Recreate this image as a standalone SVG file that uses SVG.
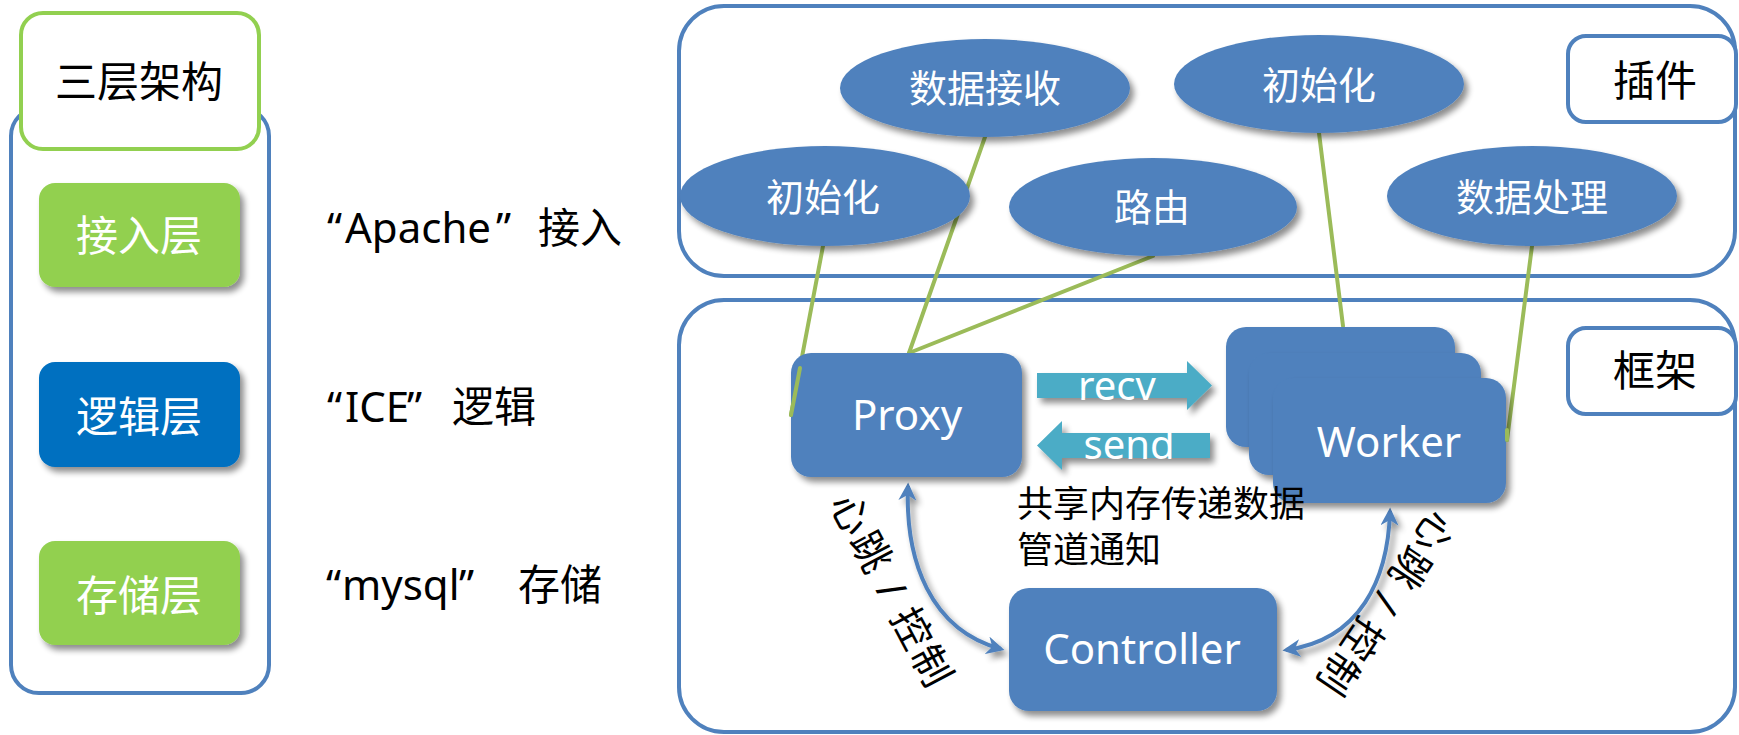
<svg xmlns="http://www.w3.org/2000/svg" width="1739" height="735" viewBox="0 0 1739 735">
<defs>
<style>
.t{font-family:"Noto Sans","Noto Sans CJK SC",sans-serif;}
.w{fill:#fff;}
.k{fill:#000;}
.frame{fill:#fff;stroke:#4F81BD;stroke-width:4;}
.node{fill:#4F81BD;}
.gl{stroke:#9BBB59;stroke-width:4;fill:none;stroke-linecap:round;}
.arc{stroke:#4F81BD;stroke-width:4;fill:none;}
.fat{fill:#4BACC6;}
</style>
<filter id="sh" x="-20%" y="-20%" width="150%" height="160%">
<feGaussianBlur in="SourceAlpha" stdDeviation="3"/>
<feOffset dx="4" dy="5" result="b"/>
<feComponentTransfer><feFuncA type="linear" slope="0.45"/></feComponentTransfer>
<feMerge><feMergeNode/><feMergeNode in="SourceGraphic"/></feMerge>
</filter>
<marker id="ah" viewBox="0 0 10 10" refX="8" refY="5" markerWidth="4.5" markerHeight="4.5" orient="auto-start-reverse" markerUnits="strokeWidth">
<path d="M0,0 L10,5 L0,10 L3,5 Z" fill="#4F81BD"/>
</marker>
</defs>
<rect width="1739" height="735" fill="#fff"/>

<!-- Left panel -->
<g id="left-panel">
<rect x="11" y="108" width="258" height="585" rx="28" class="frame"/>
</g>
<g id="title">
<rect x="21" y="13" width="238" height="136" rx="22" fill="#fff" stroke="#92D050" stroke-width="4"/>
<text x="139" y="97" class="t k" font-size="42" text-anchor="middle">三层架构</text>
</g>
<g id="layer-access">
<rect x="39" y="183" width="201" height="104" rx="16" fill="#92D050" filter="url(#sh)"/>
<text x="139" y="251" class="t w" font-size="42" text-anchor="middle">接入层</text>
</g>
<g id="layer-logic">
<rect x="39" y="362" width="201" height="105" rx="16" fill="#0070C0" filter="url(#sh)"/>
<text x="139" y="432" class="t w" font-size="42" text-anchor="middle">逻辑层</text>
</g>
<g id="layer-storage">
<rect x="39" y="541" width="201" height="104" rx="16" fill="#92D050" filter="url(#sh)"/>
<text x="139" y="611" class="t w" font-size="42" text-anchor="middle">存储层</text>
</g>
<g id="desc">
<text class="t k" font-size="42" y="243"><tspan x="327">“</tspan><tspan x="345">Apache</tspan><tspan x="496">”</tspan><tspan x="538">接入</tspan></text>
<text class="t k" font-size="42" y="422"><tspan x="327">“</tspan><tspan x="345">ICE</tspan><tspan x="407">”</tspan><tspan x="452">逻辑</tspan></text>
<text class="t k" font-size="42" y="600"><tspan x="326">“</tspan><tspan x="342">mysql</tspan><tspan x="459">”</tspan><tspan x="518">存储</tspan></text>
</g>

<!-- Right containers -->
<g id="plugin-area">
<rect x="679" y="6" width="1056" height="270" rx="45" class="frame"/>
<rect x="1568" y="36" width="168" height="86" rx="18" class="frame"/>
<text x="1655" y="96" class="t k" font-size="42" text-anchor="middle">插件</text>
</g>
<g id="framework-area">
<rect x="679" y="300" width="1056" height="432" rx="45" class="frame"/>
<rect x="1568" y="328" width="168" height="86" rx="18" class="frame"/>
<text x="1655" y="386" class="t k" font-size="42" text-anchor="middle">框架</text>
</g>

<!-- Connectors -->
<g id="connectors">
<line class="gl" x1="823" y1="246" x2="791" y2="415"/>
<line class="gl" x1="985" y1="137" x2="909" y2="353"/>
<line class="gl" x1="1153" y1="256" x2="909" y2="353"/>
<line class="gl" x1="1319" y1="133" x2="1343" y2="326"/>
<line class="gl" x1="1532" y1="246" x2="1507" y2="440"/>
<path class="arc" d="M908,486 C905,560 930,630 1001,649" marker-start="url(#ah)" marker-end="url(#ah)" filter="url(#sh)"/>
<path class="arc" d="M1390,511 C1388,580 1360,640 1286,650" marker-start="url(#ah)" marker-end="url(#ah)" filter="url(#sh)"/>
<g id="recv">
<path class="fat" d="M1037,373 L1187,373 L1187,361 L1212,385.5 L1187,410 L1187,398 L1037,398 Z" filter="url(#sh)"/>
<text x="1117" y="400" class="t w" font-size="40" text-anchor="middle">recv</text>
</g>
<g id="send">
<path class="fat" d="M1210,433 L1062,433 L1062,421 L1037,445.5 L1062,470 L1062,458 L1210,458 Z" filter="url(#sh)"/>
<text x="1129" y="459" class="t w" font-size="40" text-anchor="middle">send</text>
</g>
<text class="t k" font-size="40" text-anchor="middle" transform="translate(891,590) rotate(62)" y="14" textLength="212" lengthAdjust="spacing">心跳 / 控制</text>
<text class="t k" font-size="40" text-anchor="middle" transform="translate(1386,603) rotate(124)" y="14" textLength="210" lengthAdjust="spacing">心跳 / 控制</text>
</g>

<!-- Plugin ellipses -->
<g id="e-recvdata"><ellipse cx="985" cy="88" rx="145" ry="49" class="node" filter="url(#sh)"/><text x="985" y="102" class="t w" font-size="38" text-anchor="middle">数据接收</text></g>
<g id="e-init-top"><ellipse cx="1319" cy="84" rx="145" ry="49" class="node" filter="url(#sh)"/><text x="1319" y="99" class="t w" font-size="38" text-anchor="middle">初始化</text></g>
<g id="e-init-left"><ellipse cx="825" cy="196" rx="145" ry="50" class="node" filter="url(#sh)"/><text x="823" y="211" class="t w" font-size="38" text-anchor="middle">初始化</text></g>
<g id="e-route"><ellipse cx="1153" cy="207" rx="144" ry="49" class="node" filter="url(#sh)"/><text x="1152" y="221" class="t w" font-size="38" text-anchor="middle">路由</text></g>
<g id="e-process"><ellipse cx="1532" cy="196" rx="145" ry="50" class="node" filter="url(#sh)"/><text x="1532" y="211" class="t w" font-size="38" text-anchor="middle">数据处理</text></g>

<!-- Framework nodes -->
<g id="proxy">
<rect x="791" y="353" width="231" height="124" rx="20" class="node" filter="url(#sh)"/>
<text x="907" y="430" class="t w" font-size="42" text-anchor="middle">Proxy</text>
</g>
<g id="worker">
<rect x="1226" y="327" width="229" height="120" rx="20" class="node" filter="url(#sh)"/>
<rect x="1249" y="353" width="232" height="122" rx="20" class="node" filter="url(#sh)"/>
<rect x="1273" y="378" width="233" height="125" rx="20" class="node" filter="url(#sh)"/>
<text x="1389" y="457" class="t w" font-size="42" text-anchor="middle">Worker</text>
</g>
<g id="controller">
<rect x="1009" y="588" width="268" height="123" rx="20" class="node" filter="url(#sh)"/>
<text x="1142" y="664" class="t w" font-size="42" text-anchor="middle">Controller</text>
</g>
<g id="note">
<text x="1017" y="517" class="t k" font-size="36">共享内存传递数据</text>
<text x="1017" y="563" class="t k" font-size="36">管道通知</text>
</g>
<!-- green lines over node edges -->
<g id="connector-ends">
<line class="gl" x1="800" y1="368" x2="791" y2="415"/>
<line class="gl" x1="1507" y1="430" x2="1507" y2="440"/>
</g>
</svg>
